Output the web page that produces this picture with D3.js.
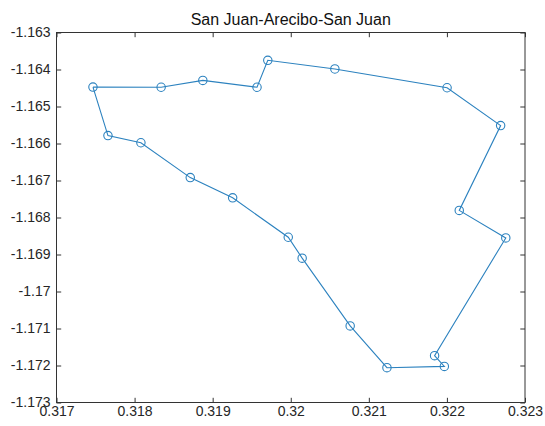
<!DOCTYPE html>
<html>
<head>
<meta charset="utf-8">
<script src="https://cdn.jsdelivr.net/npm/d3@7"></script>
<style>
  html, body { margin: 0; padding: 0; background: #fff; }
  svg { display: block; font-family: "Liberation Sans", Arial, Helvetica, sans-serif; }
</style>
</head>
<body>
<svg id="chart" width="545" height="426"></svg>
<script>
// Route coordinates (closed loop, first point repeated at the end)
const lon = [0.317467, 0.318340, 0.318874, 0.319568, 0.319706, 0.320565, 0.322002, 0.322688,
             0.322158, 0.322754, 0.321842, 0.321967, 0.321232, 0.320761, 0.320146, 0.319968,
             0.319256, 0.318713, 0.318081, 0.317659, 0.317467];
const lat = [-1.164475, -1.164480, -1.164294, -1.164480, -1.163751, -1.163986, -1.164493, -1.165516,
             -1.167808, -1.168552, -1.171734, -1.172024, -1.172060, -1.170930, -1.169098, -1.168534,
             -1.167468, -1.166922, -1.165980, -1.165785, -1.164475];
const xTicks = [0.317, 0.318, 0.319, 0.320, 0.321, 0.322, 0.323];
const yTicks = [-1.163, -1.164, -1.165, -1.166, -1.167, -1.168, -1.169, -1.170, -1.171, -1.172, -1.173];
const xTickLabels = ["0.317", "0.318", "0.319", "0.32", "0.321", "0.322", "0.323"];
const yTickLabels = ["-1.163", "-1.164", "-1.165", "-1.166", "-1.167", "-1.168", "-1.169", "-1.17", "-1.171", "-1.172", "-1.173"];
const title = "San Juan-Arecibo-San Juan";

const svg = d3.select("#chart");
const plotLeft = 56.5, plotRight = 525, plotTop = 32.5, plotBottom = 402.5;
const x = d3.scaleLinear().domain([0.317, 0.323]).range([plotLeft, plotRight]);
const y = d3.scaleLinear().domain([-1.173, -1.163]).range([plotBottom, plotTop]);

const axisColor = "#333333";
const tickLen = 4.7;
const fontSize = 14;

function styleAxis(g) {
  g.select(".domain").remove();
  g.selectAll(".tick line").attr("stroke", axisColor).attr("stroke-width", 1);
  g.selectAll(".tick text").attr("fill", "#262626").attr("font-size", fontSize)
    .attr("font-family", "'Liberation Sans', Arial, Helvetica, sans-serif");
}
const fmtX = (d, i) => xTickLabels[i];
const fmtY = (d, i) => yTickLabels[i];

// bottom axis (ticks pointing inward)
svg.append("g").attr("transform", `translate(0,${plotBottom})`)
  .call(d3.axisBottom(x).tickValues(xTicks).tickFormat(fmtX).tickSizeInner(-tickLen).tickPadding(4))
  .call(styleAxis);
// top axis ticks
svg.append("g").attr("transform", `translate(0,${plotTop})`)
  .call(d3.axisTop(x).tickValues(xTicks).tickFormat("").tickSizeInner(-tickLen))
  .call(styleAxis);
// left axis
svg.append("g").attr("transform", `translate(${plotLeft},0)`)
  .call(d3.axisLeft(y).tickValues(yTicks).tickFormat(fmtY).tickSizeInner(-tickLen).tickPadding(6))
  .call(styleAxis);
// right axis ticks
svg.append("g").attr("transform", `translate(${plotRight},0)`)
  .call(d3.axisRight(y).tickValues(yTicks).tickFormat("").tickSizeInner(-tickLen))
  .call(styleAxis);

// axes box
svg.append("rect")
  .attr("x", plotLeft).attr("y", plotTop)
  .attr("width", plotRight - plotLeft).attr("height", plotBottom - plotTop)
  .attr("fill", "none").attr("stroke", axisColor).attr("stroke-width", 1);

// route line
const pts = lon.map((v, i) => [v, lat[i]]);
svg.append("path")
  .datum(pts)
  .attr("fill", "none")
  .attr("stroke", "#2c82bf")
  .attr("stroke-width", 1.1)
  .attr("d", d3.line().x(d => x(d[0])).y(d => y(d[1])));

// markers
svg.append("g").selectAll("circle")
  .data(pts.slice(0, pts.length - 1))
  .join("circle")
  .attr("cx", d => x(d[0]))
  .attr("cy", d => y(d[1]))
  .attr("r", 4.2)
  .attr("fill", "none")
  .attr("stroke", "#2c82bf")
  .attr("stroke-width", 1.1);

// title
svg.append("text")
  .attr("x", (plotLeft + plotRight) / 2)
  .attr("y", 24.5)
  .attr("text-anchor", "middle")
  .attr("font-size", 16)
  .attr("fill", "#111")
  .text(title);
</script>
</body>
</html>
